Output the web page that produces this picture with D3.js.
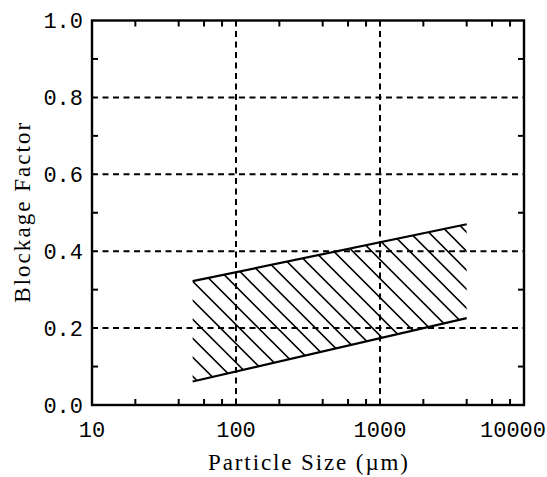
<!DOCTYPE html>
<html>
<head>
<meta charset="utf-8">
<script src="https://cdn.jsdelivr.net/npm/d3@7"></script>
<style>
  body { margin: 0; background: #fff; }
</style>
</head>
<body>
<svg width="547" height="477"></svg>
<script>
// band limits (particle size in um, blockage factor)
var upperBound = [[50, 0.322], [4000, 0.47]];
var lowerBound = [[50, 0.061], [4000, 0.226]];

var xTicks = [10, 100, 1000, 10000];
var xTickLabels = ["10", "100", "1000", "10000"];
var xGrid = [100, 1000];
var xMinor = [20, 40, 60, 80, 200, 400, 600, 800, 2000, 4000, 6000, 8000];

var yTicks = [0, 0.2, 0.4, 0.6, 0.8, 1.0];
var yTickLabels = ["0.0", "0.2", "0.4", "0.6", "0.8", "1.0"];
var yGrid = [0.2, 0.4, 0.6, 0.8];
var yMinor = [0.1, 0.3, 0.5, 0.7, 0.9];

var svg = d3.select("svg");

var x = d3.scaleLog().domain([10, 10000]).range([92, 524]);
var y = d3.scaleLinear().domain([0, 1]).range([405, 20.5]);

var pLeft = x(10), pRight = x(10000), pTop = y(1), pBottom = y(0);

// dashed grid
svg.append("g").selectAll("line")
    .data(xGrid)
    .enter().append("line")
    .attr("x1", function(d) { return x(d); })
    .attr("x2", function(d) { return x(d); })
    .attr("y1", pTop)
    .attr("y2", pBottom)
    .style("stroke", "#000")
    .style("stroke-width", 2)
    .style("stroke-dasharray", "6,4.5");

svg.append("g").selectAll("line")
    .data(yGrid)
    .enter().append("line")
    .attr("x1", pLeft)
    .attr("x2", pRight)
    .attr("y1", function(d) { return y(d); })
    .attr("y2", function(d) { return y(d); })
    .style("stroke", "#000")
    .style("stroke-width", 2)
    .style("stroke-dasharray", "6,4.5");

// hatched band
var band = upperBound.concat(lowerBound.slice().reverse());
var poly = d3.line()
    .x(function(d) { return x(d[0]); })
    .y(function(d) { return y(d[1]); });

svg.append("clipPath")
    .attr("id", "bandClip")
    .append("path")
    .attr("d", poly(band) + "Z");

var x0 = x(upperBound[0][0]), y0 = y(upperBound[0][1]);
var step = 19;
var hatch = d3.range(-30, 30).map(function(k) { return y0 - x0 + k * step; });

svg.append("g")
    .attr("clip-path", "url(#bandClip)")
    .selectAll("line")
    .data(hatch)
    .enter().append("line")
    .attr("x1", 150)
    .attr("y1", function(c) { return 150 + c; })
    .attr("x2", 520)
    .attr("y2", function(c) { return 520 + c; })
    .style("stroke", "#000")
    .style("stroke-width", 1.6);

[upperBound, lowerBound].forEach(function(b) {
  svg.append("path")
      .datum(b)
      .attr("d", poly)
      .style("fill", "none")
      .style("stroke", "#000")
      .style("stroke-width", 2.2);
});

// frame
svg.append("rect")
    .attr("x", pLeft)
    .attr("y", pTop)
    .attr("width", pRight - pLeft)
    .attr("height", pBottom - pTop)
    .style("fill", "none")
    .style("stroke", "#000")
    .style("stroke-width", 2.4);

// minor ticks, inward on all four sides
var tl = 6;
var ticks = svg.append("g").style("stroke", "#000").style("stroke-width", 2);
xMinor.forEach(function(v) {
  ticks.append("line").attr("x1", x(v)).attr("x2", x(v)).attr("y1", pBottom).attr("y2", pBottom - tl);
  ticks.append("line").attr("x1", x(v)).attr("x2", x(v)).attr("y1", pTop).attr("y2", pTop + tl);
});
yMinor.forEach(function(v) {
  ticks.append("line").attr("x1", pLeft).attr("x2", pLeft + tl).attr("y1", y(v)).attr("y2", y(v));
  ticks.append("line").attr("x1", pRight).attr("x2", pRight - tl).attr("y1", y(v)).attr("y2", y(v));
});

// tick labels
svg.append("g").selectAll("text")
    .data(yTicks)
    .enter().append("text")
    .attr("x", 83)
    .attr("y", function(d) { return y(d); })
    .attr("dy", "0.36em")
    .attr("text-anchor", "end")
    .style("font-family", "Liberation Mono")
    .style("font-size", "22px")
    .text(function(d, i) { return yTickLabels[i]; });

svg.append("g").selectAll("text")
    .data(xTicks)
    .enter().append("text")
    .attr("x", function(d, i) { return i == xTicks.length - 1 ? 546 : x(d); })
    .attr("y", 437)
    .attr("text-anchor", function(d, i) { return i == xTicks.length - 1 ? "end" : "middle"; })
    .style("font-family", "Liberation Mono")
    .style("font-size", "22px")
    .text(function(d, i) { return xTickLabels[i]; });

// axis titles
svg.append("text")
    .attr("x", (pLeft + pRight) / 2)
    .attr("y", 470)
    .attr("text-anchor", "middle")
    .attr("textLength", 200)
    .style("font-family", "Liberation Serif")
    .style("font-size", "23px")
    .text("Particle Size (\u00b5m)");

svg.append("text")
    .attr("text-anchor", "middle")
    .attr("transform", "translate(30," + ((pTop + pBottom) / 2) + ")rotate(-90)")
    .attr("textLength", 180)
    .style("font-family", "Liberation Serif")
    .style("font-size", "23px")
    .text("Blockage Factor");
</script>
</body>
</html>
